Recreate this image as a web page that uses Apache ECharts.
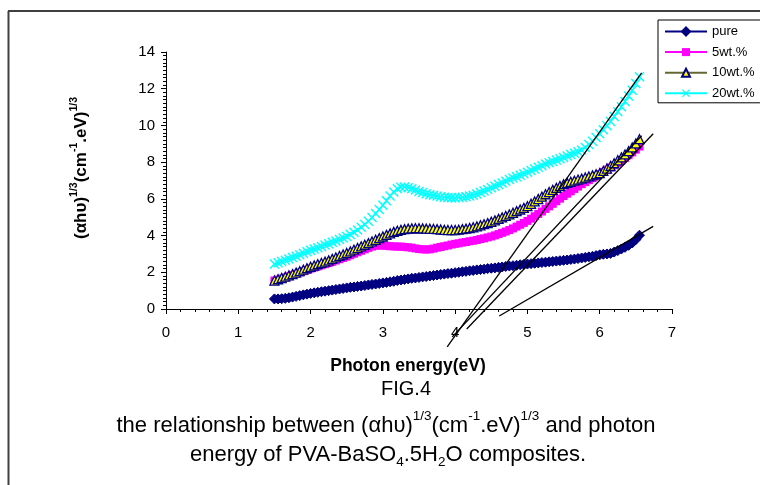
<!DOCTYPE html>
<html>
<head>
<meta charset="utf-8">
<script src="https://cdn.jsdelivr.net/npm/echarts@6/dist/echarts.min.js"></script>
<style>html,body{margin:0;padding:0;background:#fff;}#c{width:760px;height:485px;}</style>
</head>
<body>
<div id="c"></div>
<script>
const energy = [1.50,1.55,1.60,1.65,1.70,1.75,1.80,1.85,1.90,1.95,2.00,2.05,2.10,2.15,2.20,2.25,2.30,2.35,2.40,2.45,2.50,2.55,2.60,2.65,2.70,2.75,2.80,2.85,2.90,2.95,3.00,3.05,3.10,3.15,3.20,3.25,3.30,3.35,3.40,3.45,3.50,3.55,3.60,3.65,3.70,3.75,3.80,3.85,3.90,3.95,4.00,4.05,4.10,4.15,4.20,4.25,4.30,4.35,4.40,4.45,4.50,4.55,4.60,4.65,4.70,4.75,4.80,4.85,4.90,4.95,5.00,5.05,5.10,5.15,5.20,5.25,5.30,5.35,5.40,5.45,5.50,5.55,5.60,5.65,5.70,5.75,5.80,5.85,5.90,5.95,6.00,6.05,6.10,6.15,6.20,6.25,6.30,6.35,6.40,6.45,6.50,6.55];
const pure = [0.55,0.55,0.56,0.58,0.61,0.65,0.69,0.73,0.77,0.81,0.85,0.88,0.91,0.94,0.97,1.00,1.03,1.06,1.09,1.12,1.15,1.18,1.20,1.23,1.25,1.28,1.31,1.34,1.36,1.39,1.42,1.45,1.48,1.51,1.55,1.58,1.61,1.64,1.67,1.69,1.72,1.75,1.77,1.80,1.82,1.85,1.88,1.90,1.93,1.95,1.98,2.00,2.03,2.05,2.08,2.10,2.13,2.15,2.17,2.20,2.22,2.24,2.27,2.29,2.32,2.34,2.36,2.38,2.41,2.43,2.45,2.47,2.49,2.51,2.53,2.55,2.57,2.59,2.61,2.63,2.65,2.67,2.70,2.72,2.75,2.78,2.81,2.84,2.87,2.91,2.95,2.98,3.00,3.03,3.10,3.18,3.27,3.36,3.47,3.60,3.78,4.02];
const wt5 = [1.55,1.60,1.66,1.72,1.78,1.85,1.92,1.99,2.06,2.13,2.20,2.26,2.32,2.38,2.44,2.50,2.57,2.64,2.71,2.78,2.85,2.93,3.01,3.09,3.17,3.25,3.33,3.40,3.45,3.46,3.46,3.44,3.42,3.41,3.40,3.40,3.38,3.36,3.34,3.30,3.27,3.25,3.24,3.25,3.29,3.34,3.38,3.42,3.46,3.51,3.55,3.58,3.62,3.65,3.69,3.72,3.76,3.81,3.85,3.90,3.95,4.01,4.08,4.15,4.22,4.30,4.39,4.49,4.59,4.69,4.80,4.92,5.05,5.18,5.31,5.45,5.59,5.73,5.87,6.01,6.15,6.28,6.41,6.54,6.67,6.80,6.91,7.02,7.13,7.24,7.35,7.47,7.59,7.71,7.83,7.95,8.09,8.23,8.38,8.53,8.68,8.85];
const wt10 = [1.55,1.62,1.69,1.76,1.83,1.90,1.98,2.06,2.14,2.22,2.30,2.37,2.44,2.51,2.58,2.65,2.73,2.81,2.89,2.97,3.05,3.14,3.23,3.32,3.41,3.50,3.59,3.68,3.77,3.86,3.95,4.04,4.12,4.20,4.26,4.31,4.35,4.38,4.39,4.40,4.40,4.39,4.38,4.37,4.36,4.35,4.33,4.31,4.30,4.30,4.30,4.32,4.35,4.38,4.41,4.45,4.50,4.56,4.62,4.68,4.75,4.83,4.91,4.99,5.07,5.15,5.24,5.33,5.42,5.51,5.60,5.73,5.86,5.99,6.12,6.25,6.37,6.49,6.60,6.70,6.80,6.87,6.93,6.99,7.05,7.10,7.16,7.22,7.28,7.34,7.40,7.52,7.65,7.79,7.94,8.10,8.26,8.42,8.60,8.80,9.02,9.25];
const wt20 = [2.45,2.52,2.59,2.66,2.73,2.80,2.88,2.96,3.04,3.12,3.20,3.27,3.34,3.41,3.48,3.55,3.63,3.71,3.79,3.87,3.95,4.06,4.18,4.31,4.45,4.60,4.78,4.98,5.20,5.42,5.65,5.90,6.15,6.37,6.55,6.63,6.65,6.61,6.55,6.48,6.40,6.34,6.28,6.23,6.19,6.15,6.12,6.09,6.07,6.06,6.05,6.07,6.09,6.12,6.16,6.20,6.27,6.35,6.43,6.51,6.60,6.69,6.78,6.87,6.96,7.05,7.13,7.21,7.29,7.37,7.45,7.54,7.63,7.72,7.81,7.90,7.97,8.04,8.11,8.18,8.25,8.33,8.41,8.49,8.57,8.66,8.80,8.96,9.14,9.34,9.55,9.76,9.98,10.22,10.48,10.75,11.02,11.30,11.60,11.92,12.28,12.65];
// tangent lines: [startE, startV], [endE, endV]
const tangent20 = [[3.89, -2.06], [6.58, 12.86]];
const tangent10 = [[3.96, -1.52], [6.58, 9.44]];
const tangent5 = [[4.16, -1.09], [6.74, 9.55]];
const tangentPure = [[4.61, -0.38], [6.74, 4.50]];
const xTicks = [0,1,2,3,4,5,6,7];
const yTicks = [0,2,4,6,8,10,12,14];

const FONT = "'Liberation Sans', Arial, sans-serif";
function pts(ys){ return energy.map((e,i)=>[e, ys[i]]); }
const xShape = 'path://M0,1L1,0L5,4L9,0L10,1L6,5L10,9L9,10L5,6L1,10L0,9L4,5Z';

const chart = echarts.init(document.getElementById('c'), null, {renderer:'canvas'});
const yRich = {
  n: {fontFamily: FONT, fontWeight:'bold', fontSize:17, lineHeight:21, verticalAlign:'bottom', fill:'#000'},
  s: {fontFamily: FONT, fontWeight:'bold', fontSize:10.5, lineHeight:21, verticalAlign:'top', fill:'#000'}
};
const capRich = {
  n: {fontFamily: FONT, fontSize:22, lineHeight:27, verticalAlign:'bottom', fill:'#000'},
  s: {fontFamily: FONT, fontSize:13.5, lineHeight:27, verticalAlign:'top', fill:'#000'},
  b: {fontFamily: FONT, fontSize:13.5, lineHeight:27, verticalAlign:'bottom', padding:[0,0,-4,0], fill:'#000'}
};
function tangentSeries(d){
  return {type:'line', data:d, symbol:'none', clip:false, silent:true, z:10,
    lineStyle:{color:'#000', width:1.3}, legendHoverLink:false, tooltip:{show:false}};
}
chart.setOption({
  animation:false,
  backgroundColor:'#fff',
  grid:{left:166, right:88, top:52, bottom:176},
  legend:{
    left:658, top:20, orient:'vertical',
    borderColor:'#000', borderWidth:1, padding:[5,6,3,6],
    itemWidth:42, itemHeight:10, itemGap:7.6,
    textStyle:{fontFamily:FONT, fontSize:13, color:'#000'},
    data:['pure','5wt.%','10wt.%','20wt.%']
  },
  xAxis:{
    type:'value', min:0, max:7, interval:1,
    name:'Photon energy(eV)', nameLocation:'middle', nameGap:48,
    nameTextStyle:{fontFamily:FONT, fontWeight:'bold', fontSize:17.5, color:'#000', padding:[0,22,0,0]},
    axisLine:{show:true, onZero:false, lineStyle:{color:'#000', width:1}},
    axisTick:{show:true, length:5, lineStyle:{color:'#000'}},
    minorTick:{show:true, splitNumber:5, length:3, lineStyle:{color:'#000'}},
    splitLine:{show:false},
    axisLabel:{fontFamily:FONT, fontSize:15, color:'#000', margin:16,
      formatter:v=> xTicks.indexOf(v) >= 0 ? String(v) : ''}
  },
  yAxis:{
    type:'value', min:0, max:14, interval:2,
    axisLine:{show:true, lineStyle:{color:'#000', width:1}},
    axisTick:{show:true, length:5, lineStyle:{color:'#000'}},
    minorTick:{show:true, splitNumber:10, length:3, lineStyle:{color:'#000'}},
    splitLine:{show:false},
    axisLabel:{fontFamily:FONT, fontSize:15, color:'#000', margin:11,
      formatter:v=> yTicks.indexOf(v) >= 0 ? String(v) : ''}
  },
  series:[
    {name:'pure', type:'line', data:pts(pure), showAllSymbol:true, symbol:'diamond', symbolSize:10,
      lineStyle:{color:'#000080', width:1}, itemStyle:{color:'#000080', borderColor:'#000080', borderWidth:1}, z:2},
    {name:'5wt.%', type:'line', data:pts(wt5), showAllSymbol:true, symbol:'rect', symbolSize:8,
      lineStyle:{color:'#FF00FF', width:1}, itemStyle:{color:'#FF00FF', borderColor:'#FF00FF', borderWidth:0}, z:3},
    {name:'10wt.%', type:'line', data:pts(wt10), showAllSymbol:true, symbol:'triangle', symbolSize:9,
      lineStyle:{color:'#666633', width:1}, itemStyle:{color:'#FFFF00', borderColor:'#000080', borderWidth:1.3}, z:4},
    {name:'20wt.%', type:'line', data:pts(wt20), showAllSymbol:true, symbol:xShape, symbolSize:10,
      lineStyle:{color:'#00FFFF', width:1}, itemStyle:{color:'#00FFFF', borderWidth:0}, z:5},
    tangentSeries(tangent20),
    tangentSeries(tangent10),
    tangentSeries(tangent5),
    tangentSeries(tangentPure)
  ],
  graphic:[
    {type:'line', shape:{x1:8.5, y1:11, x2:8.5, y2:485}, style:{stroke:'#404040', lineWidth:2}, silent:true},
    {type:'line', shape:{x1:8, y1:11, x2:760, y2:11}, style:{stroke:'#404040', lineWidth:2}, silent:true},
    {type:'text', x:79, y:168, rotation:Math.PI/2, silent:true, style:{text:'{n|(αhυ)}{s|1/3}{n|(cm}{s|-1}{n|.eV)}{s|1/3}', rich:yRich, font:'bold 17px '+FONT, fill:'#000', align:'center', verticalAlign:'middle'}},
    {type:'text', x:406, y:389, silent:true, style:{text:'FIG.4', font:'20px '+FONT, fill:'#000', align:'center', verticalAlign:'middle'}},
    {type:'text', x:386, y:423, silent:true, style:{text:'{n|the relationship between (αhυ)}{s|1/3}{n|(cm}{s|-1}{n|.eV)}{s|1/3}{n| and photon}', rich:capRich, font:'22px '+FONT, fill:'#000', align:'center', verticalAlign:'middle'}},
    {type:'text', x:388, y:452, silent:true, style:{text:'{n|energy of PVA-BaSO}{b|4}{n|.5H}{b|2}{n|O composites.}', rich:capRich, font:'22px '+FONT, fill:'#000', align:'center', verticalAlign:'middle'}}
  ]
});
</script>
</body>
</html>
